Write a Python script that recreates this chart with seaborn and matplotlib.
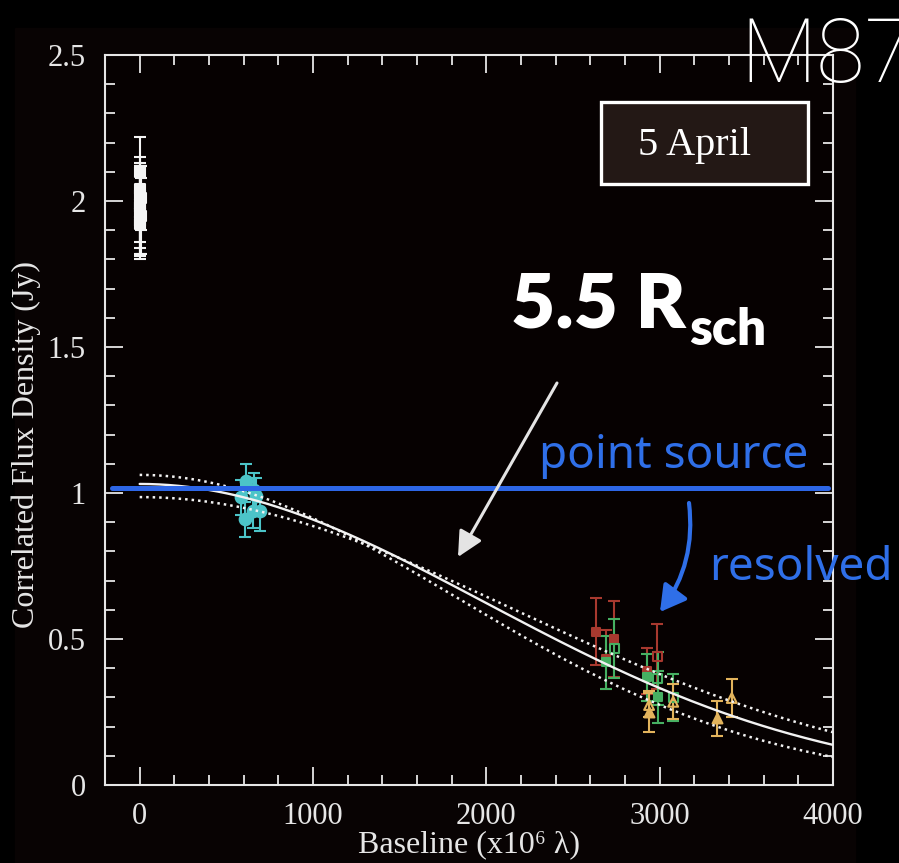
import numpy as np
import matplotlib
matplotlib.use("Agg")
import matplotlib.pyplot as plt
import seaborn as sns
from matplotlib.patches import Rectangle
from matplotlib.ticker import MultipleLocator, FuncFormatter

# ---- measurements: baseline (x10^6 lambda), correlated flux (Jy), 1-sigma error ----
white_u = [2, 3, 4, 5, 3, 4, 2, 5, 3, 4]
white_flux = [2.10, 2.04, 2.02, 2.01, 1.99, 1.98, 1.96, 1.95, 1.93, 1.92]
white_err = [0.12, 0.11, 0.11, 0.11, 0.13, 0.14, 0.14, 0.13, 0.12, 0.12]

cyan_u = [615, 657, 586, 672, 651, 692, 605]
cyan_flux = [1.04, 1.01, 0.985, 0.99, 0.94, 0.94, 0.91]
cyan_err = [0.06, 0.06, 0.06, 0.06, 0.06, 0.07, 0.06]

red_u = [2632, 2738, 2693, 2986, 2928]
red_flux = [0.525, 0.50, 0.43, 0.44, 0.39]
red_err = [0.115, 0.13, 0.10, 0.11, 0.08]
red_open = [False, False, False, True, False]

green_u = [2693, 2738, 2926, 2988, 2988, 3078]
green_flux = [0.42, 0.468, 0.369, 0.365, 0.302, 0.30]
green_err = [0.09, 0.10, 0.08, 0.09, 0.09, 0.08]
green_open = [False, True, False, True, False, True]

orange_u = [2939, 2939, 3078, 3333, 3416]
orange_flux = [0.274, 0.251, 0.285, 0.228, 0.298]
orange_err = [0.04, 0.07, 0.06, 0.06, 0.065]
orange_open = [True, False, True, False, True]

# circular Gaussian source models: total flux (Jy) and FWHM (micro-arcsec)
model_flux = [1.031, 1.062, 0.986]
model_fwhm = [38.8, 42.4, 35.6]
model_dotted = [False, True, True]

point_source_flux = 1.017

x_ticks = [0, 1000, 2000, 3000, 4000]
y_ticks = [0, 0.5, 1, 1.5, 2, 2.5]

# ---- style ----
sns.set_style("ticks")
plt.rcParams["font.family"] = ["Liberation Serif", "DejaVu Serif"]

W, H = 899, 863
fig = plt.figure(figsize=(W / 100, H / 100), dpi=100, facecolor="black")
fig.add_artist(Rectangle((15 / W, 0), (855 - 15) / W, 1 - 28 / H,
                         transform=fig.transFigure, color="#080303", zorder=-10))

ax = fig.add_axes([105 / W, 1 - 785 / H, (833 - 105) / W, (785 - 55) / H])
ax.set_facecolor("#060101")

FG = "#e6e6e6"
CYAN = "#4cc4c8"
RED = "#a8392f"
GREEN = "#46b062"
ORANGE = "#e2b35c"

def draw_group(u, flux, err, color, marker, size, opened=None):
    ax.errorbar(u, flux, yerr=err, fmt="none", ecolor=color, elinewidth=1.5,
                capsize=4, capthick=1.5, zorder=2)
    if opened is None:
        opened = [False] * len(u)
    for is_open in (False, True):
        idx = [i for i, o in enumerate(opened) if o == is_open]
        if not idx:
            continue
        sns.scatterplot(x=[u[i] for i in idx], y=[flux[i] for i in idx],
                        marker=marker, s=size, color=color, edgecolor=color,
                        linewidth=1.5, ax=ax, zorder=3, legend=False)
        if is_open:
            ax.collections[-1].set_facecolor("none")

draw_group(white_u, white_flux, white_err, "#f4f4f4", "s", 42)
draw_group(cyan_u, cyan_flux, cyan_err, CYAN, "o", 70)
draw_group(red_u, red_flux, red_err, RED, "s", 40, red_open)
draw_group(green_u, green_flux, green_err, GREEN, "s", 40, green_open)
draw_group(orange_u, orange_flux, orange_err, ORANGE, "^", 50, orange_open)

# model visibility curves
uas = np.pi / 180 / 3600 / 1e6
u_grid = np.linspace(0, 4000, 500)
for S, fwhm, dotted in zip(model_flux, model_fwhm, model_dotted):
    theta = fwhm * uas
    vis = S * np.exp(-(np.pi * theta * u_grid * 1e6) ** 2 / (4 * np.log(2)))
    sns.lineplot(x=u_grid, y=vis, ax=ax, color="#f2f2f2",
                 linewidth=1.8 if dotted else 1.7,
                 linestyle=(0, (1, 1.6)) if dotted else "-", zorder=4)

# unresolved point source level
ax.axhline(point_source_flux, xmin=0.01, xmax=0.993, color="#2d66e6", lw=3.6, zorder=5)

# ---- axes ----
ax.set_xlim(-200, 4000)
ax.set_ylim(0, 2.5)
ax.set_xticks(x_ticks)
ax.set_yticks(y_ticks)
ax.xaxis.set_minor_locator(MultipleLocator(200))
ax.yaxis.set_minor_locator(MultipleLocator(0.1))
fmt = FuncFormatter(lambda v, p: f"{v:g}")
ax.xaxis.set_major_formatter(fmt)
ax.yaxis.set_major_formatter(fmt)
ax.tick_params(which="both", direction="in", top=True, right=True,
               color=FG, labelcolor=FG, labelsize=22, width=1.3)
ax.tick_params(which="major", length=13)
ax.tick_params(which="minor", length=7)
ax.tick_params(axis="y", pad=14)
ax.tick_params(axis="x", pad=12)
for sp in ax.spines.values():
    sp.set_color(FG)
    sp.set_linewidth(1.5)

ax.set_xlabel("Baseline (x10⁶ λ)", color=FG, fontsize=23)
ax.set_ylabel("Correlated Flux Density (Jy)", color=FG, fontsize=23)
ax.xaxis.set_label_coords(0.5, -0.062)
ax.yaxis.set_label_coords(-0.088, 0.466)

# ---- annotations ----
def fp(x, y):
    return x / W, 1 - y / H

fig.text(*fp(740, 82), "M87", color="white", fontsize=64, fontweight="light",
         family=["Roboto", "DejaVu Sans"], ha="left", va="baseline", zorder=20)

fig.add_artist(Rectangle(fp(601, 184), (808 - 601) / W, (184 - 102) / H,
                         transform=fig.transFigure, facecolor="#231815",
                         edgecolor="white", linewidth=2.4, zorder=10))
fig.text(*fp(695, 146), "5 April", color="white", fontsize=29,
         ha="center", va="center", zorder=11)

big = fig.text(*fp(511, 328), "5.5 R", color="white", fontsize=55, fontweight="heavy",
               family=["Lato", "DejaVu Sans"], ha="left", va="baseline", zorder=10)
fig.canvas.draw()
bb = big.get_window_extent(renderer=fig.canvas.get_renderer())
fig.text((bb.x1 + 3) / W, 1 - 345 / H, "sch", color="white", fontsize=37,
         fontweight="heavy", family=["Lato", "DejaVu Sans"],
         ha="left", va="baseline", zorder=10)

BLUE = "#2f6fe8"
fig.text(*fp(539, 468), "point source", color=BLUE, fontsize=33, fontweight="light",
         family=["Noto Sans", "DejaVu Sans"], ha="left", va="baseline", zorder=10)
fig.text(*fp(709, 580), "resolved", color=BLUE, fontsize=33, fontweight="light",
         family=["Noto Sans", "DejaVu Sans"], ha="left", va="baseline", zorder=10)

ax.annotate("", xy=(458, H - 557), xytext=(557, H - 383), xycoords="figure pixels",
            arrowprops=dict(arrowstyle="-|>,head_length=0.7,head_width=0.35",
                            color="#e4e4e4", lw=2.2, mutation_scale=22,
                            shrinkA=0, shrinkB=0), zorder=10)
ax.annotate("", xy=(660, H - 612), xytext=(689, H - 503), xycoords="figure pixels",
            arrowprops=dict(arrowstyle="-|>,head_length=0.7,head_width=0.4",
                            connectionstyle="arc3,rad=-0.2",
                            color=BLUE, lw=3, mutation_scale=22,
                            shrinkA=0, shrinkB=0), zorder=10)

fig.savefig("out.png", dpi=100, facecolor="black")
